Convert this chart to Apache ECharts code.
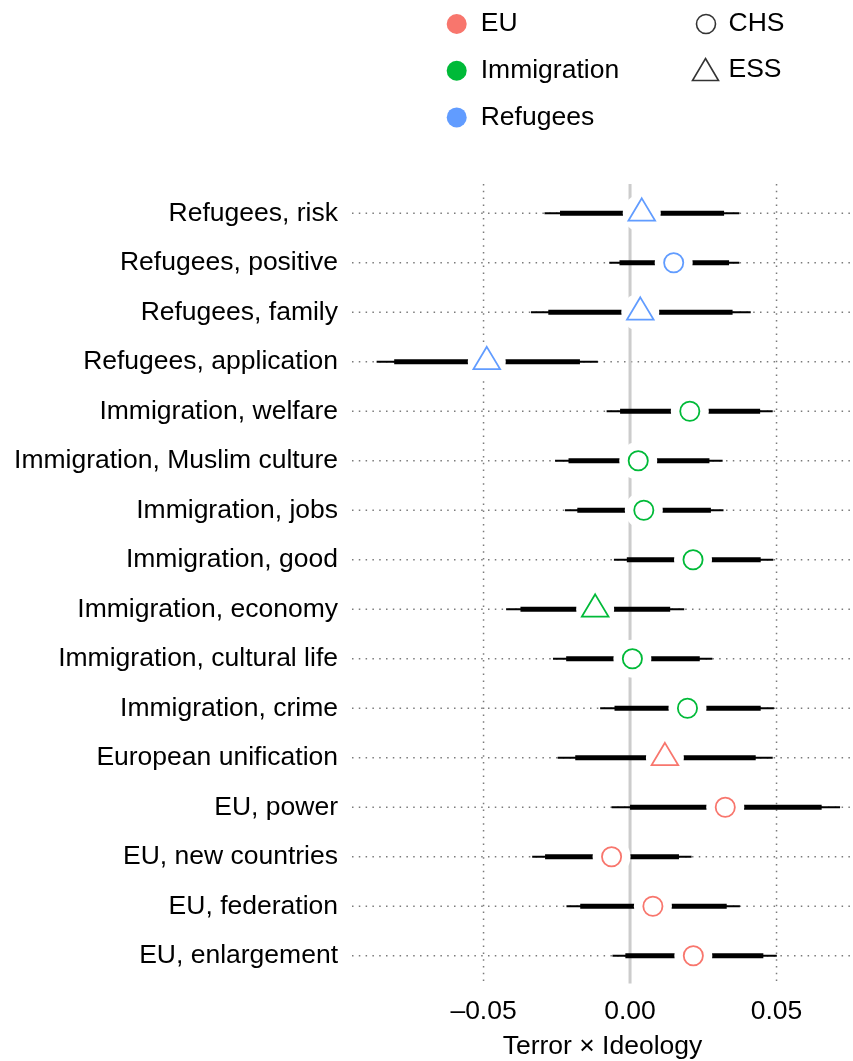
<!DOCTYPE html>
<html>
<head>
<meta charset="utf-8">
<script src="https://cdn.jsdelivr.net/npm/echarts@6/dist/echarts.min.js"></script>
<style>
  html, body { margin: 0; padding: 0; background: #fff; }
  #chart { width: 853px; height: 1061px; }
</style>
</head>
<body>
<div id="chart"></div>
<script>
// Coefficients of the Terror × Ideology interaction, with 90% and 95% intervals
const categories = [
  'Refugees, risk', 'Refugees, positive', 'Refugees, family', 'Refugees, application',
  'Immigration, welfare', 'Immigration, Muslim culture', 'Immigration, jobs', 'Immigration, good',
  'Immigration, economy', 'Immigration, cultural life', 'Immigration, crime',
  'European unification', 'EU, power', 'EU, new countries', 'EU, federation', 'EU, enlargement'
];
const estimate = [0.0040, 0.0149, 0.0035, -0.0489, 0.0204, 0.0028, 0.0047, 0.0215, -0.0119, 0.0008, 0.0196, 0.0119, 0.0325, -0.0063, 0.0078, 0.0216];
const lower95  = [-0.0292, -0.0071, -0.0338, -0.0865, -0.0080, -0.0256, -0.0222, -0.0055, -0.0423, -0.0263, -0.0102, -0.0247, -0.0063, -0.0334, -0.0217, -0.0060];
const lower90  = [-0.0239, -0.0036, -0.0279, -0.0805, -0.0034, -0.0210, -0.0180, -0.0011, -0.0374, -0.0218, -0.0053, -0.0187, 0.0000, -0.0290, -0.0170, -0.0016];
const upper90  = [0.0321, 0.0338, 0.0350, -0.0171, 0.0444, 0.0271, 0.0276, 0.0446, 0.0137, 0.0238, 0.0446, 0.0429, 0.0654, 0.0167, 0.0330, 0.0455];
const upper95  = [0.0373, 0.0373, 0.0412, -0.0110, 0.0487, 0.0316, 0.0319, 0.0489, 0.0185, 0.0281, 0.0491, 0.0487, 0.0717, 0.0210, 0.0375, 0.0501];
const topic = [
  'Refugees', 'Refugees', 'Refugees', 'Refugees',
  'Immigration', 'Immigration', 'Immigration', 'Immigration', 'Immigration', 'Immigration', 'Immigration',
  'EU', 'EU', 'EU', 'EU', 'EU'
];
const survey = ['ESS', 'CHS', 'ESS', 'ESS', 'CHS', 'CHS', 'CHS', 'CHS', 'ESS', 'CHS', 'CHS', 'ESS', 'CHS', 'CHS', 'CHS', 'CHS'];
const topics = ['EU', 'Immigration', 'Refugees'];
const surveys = ['CHS', 'ESS'];
const xTicks = [-0.05, 0, 0.05];

const topicColor = { EU: '#F8766D', Immigration: '#00BA38', Refugees: '#619CFF' };
const FONT = '"Liberation Sans", Arial, Helvetica, sans-serif';
const FS = 26.5;
const DOTS = { stroke: '#7a7a7a', lineWidth: 1.5, lineDash: [1.5, 5.3] };

// horizontal dotted guide for each row
function renderRowGuide(params, api) {
  const cs = params.coordSys;
  const y = api.coord([0, api.value(1)])[1];
  return {
    type: 'line',
    shape: { x1: cs.x, y1: y, x2: cs.x + cs.width, y2: y },
    style: DOTS
  };
}

// vertical guides at the x ticks; zero gets a solid grey reference line
function renderTickGuide(params, api) {
  const cs = params.coordSys;
  const v = api.value(0);
  const x = api.coord([v, 0])[0];
  const zero = v === 0;
  return {
    type: 'line',
    shape: { x1: x, y1: cs.y - 4.5, x2: x, y2: cs.y + cs.height + 3 },
    style: zero ? { stroke: '#cccccc', lineWidth: 3 } : DOTS
  };
}

// estimate with thin 95% and thick 90% bars, white halo and hollow marker
function renderEstimate(params, api) {
  const i = api.value(1);
  const color = topicColor[topic[i]];
  const p = api.coord([estimate[i], i]);
  const cx = p[0], cy = p[1];
  const X = v => api.coord([v, i])[0];
  const children = [
    { type: 'line', shape: { x1: X(lower95[i]), y1: cy, x2: X(upper95[i]), y2: cy },
      style: { stroke: '#000', lineWidth: 1.8 } },
    { type: 'line', shape: { x1: X(lower90[i]), y1: cy, x2: X(upper90[i]), y2: cy },
      style: { stroke: '#000', lineWidth: 5 } },
    { type: 'circle', shape: { cx: cx, cy: cy, r: 19 }, style: { fill: '#fff' } }
  ];
  if (survey[i] === 'ESS') {
    children.push({
      type: 'polygon',
      shape: { points: [[cx, cy - 14.9], [cx + 13.3, cy + 7.4], [cx - 13.3, cy + 7.4]] },
      style: { fill: 'none', stroke: color, lineWidth: 1.8 }
    });
  } else {
    children.push({
      type: 'circle', shape: { cx: cx, cy: cy, r: 9.6 },
      style: { fill: 'none', stroke: color, lineWidth: 1.8 }
    });
  }
  return { type: 'group', children: children };
}

const series = [
  {
    name: 'rows', type: 'custom', silent: true, z: 1,
    renderItem: renderRowGuide,
    data: categories.map((c, i) => [0, i])
  },
  {
    name: 'ticks', type: 'custom', silent: true, z: 2,
    renderItem: renderTickGuide,
    data: xTicks.map(v => [v, 0])
  }
];
topics.forEach(t => {
  series.push({
    name: t, type: 'custom', z: 3,
    itemStyle: { color: topicColor[t] },
    renderItem: renderEstimate,
    data: categories.map((c, i) => [estimate[i], i]).filter((d, i) => topic[i] === t)
  });
});
surveys.forEach(s => {
  series.push({ name: s, type: 'scatter', data: [] });
});

const legendText = { color: '#000', fontSize: FS, fontFamily: FONT, lineHeight: 26 };

const option = {
  animation: false,
  backgroundColor: '#fff',
  textStyle: { fontFamily: FONT },
  legend: [
    {
      orient: 'vertical', left: 446.7, top: 10.5, padding: 0,
      itemWidth: 20, itemHeight: 20, itemGap: 19.7,
      selectedMode: false,
      textStyle: Object.assign({ padding: [0, 0, 0, 9] }, legendText),
      data: topics.map(t => ({ name: t, icon: 'circle', itemStyle: { color: topicColor[t] } }))
    },
    {
      orient: 'vertical', left: 694, top: 10.5, padding: 0,
      itemWidth: 19, itemHeight: 19,
      selectedMode: false,
      textStyle: Object.assign({ padding: [0, 0, 0, 8] }, legendText),
      data: [{ name: 'CHS', icon: 'circle', itemStyle: { color: 'none', borderColor: '#000', borderWidth: 1.6 } }]
    },
    {
      orient: 'vertical', left: 690, top: 56, padding: 0,
      itemWidth: 26, itemHeight: 22,
      selectedMode: false,
      textStyle: Object.assign({ padding: [0, 0, 0, 5] }, legendText),
      data: [{ name: 'ESS', icon: 'triangle', itemStyle: { color: 'none', borderColor: '#000', borderWidth: 1.6 } }]
    }
  ],
  grid: { left: 352, right: 0, top: 188.5, bottom: 80.5, containLabel: false, outerBoundsMode: 'none' },
  xAxis: {
    type: 'value',
    min: -0.0949, max: 0.0761,
    name: 'Terror × Ideology',
    nameLocation: 'middle', nameGap: 53,
    nameTextStyle: { color: '#000', fontSize: FS, fontFamily: FONT },
    axisLine: { show: false }, axisTick: { show: false }, splitLine: { show: false },
    axisLabel: {
      customValues: xTicks,
      margin: 18, color: '#000', fontSize: FS, fontFamily: FONT,
      formatter: v => v.toFixed(2).replace('-', '\u2013')
    }
  },
  yAxis: {
    type: 'category', inverse: true, data: categories,
    axisLine: { show: false }, axisTick: { show: false }, splitLine: { show: false },
    axisLabel: { margin: 14, color: '#000', fontSize: FS, fontFamily: FONT, interval: 0 }
  },
  series: series
};

const chart = echarts.init(document.getElementById('chart'), null, { renderer: 'canvas' });
chart.setOption(option);
</script>
</body>
</html>
